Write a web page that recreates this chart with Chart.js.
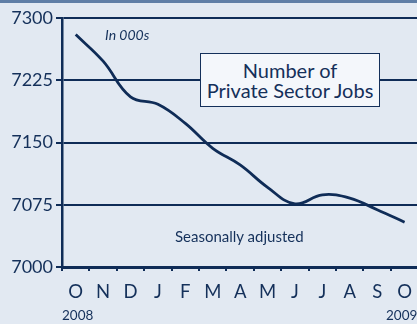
<!DOCTYPE html>
<html>
<head>
<meta charset="utf-8">
<script src="https://cdn.jsdelivr.net/npm/chart.js@4"></script>
<style>
  html, body { margin: 0; padding: 0; }
  body { width: 417px; height: 324px; overflow: hidden; background: #e2e9f2; position: relative; font-family: Lato, "Open Sans", sans-serif; color: #14305a; }
  #band { position: absolute; left: 0; top: 0; width: 417px; height: 3px; background: #5f7ea6; }
  #wrap { position: absolute; left: 0; top: 0; width: 422px; height: 324px; }
  .txt { position: absolute; white-space: nowrap; line-height: 1; }
  #unit { left: 105px; top: 28px; font-size: 14px; font-style: italic; }
  #note { left: 175px; top: 229px; font-size: 15px; }
  #title { position: absolute; left: 200px; top: 53px; width: 180px; height: 54px; box-sizing: border-box; border: 1.5px solid #14305a; background: #f4f7fb; text-align: center; font-size: 20px; line-height: 20px; padding-top: 6px; }
  #y1 { left: 62px; top: 309px; font-size: 13.5px; }
  #y2 { left: 386px; top: 309px; font-size: 13.5px; }
</style>
</head>
<body>
<div id="wrap"><canvas id="jobsChart" width="422" height="324"></canvas></div>
<div id="band"></div>
<div class="txt" id="unit">In 000s</div>
<div class="txt" id="note">Seasonally adjusted</div>
<div id="title">Number of<br>Private Sector Jobs</div>
<div class="txt" id="y1">2008</div>
<div class="txt" id="y2">2009</div>
<script>
// private sector jobs, thousands, Oct 2008 - Oct 2009 (seasonally adjusted)
const months = ["O", "N", "D", "J", "F", "M", "A", "M", "J", "J", "A", "S", "O"];
const jobs = [7280, 7248, 7205, 7196, 7173, 7143, 7123, 7096, 7076, 7087, 7083, 7069, 7054];
const yTicks = [7000, 7075, 7150, 7225, 7300];

const NAVY = "#0f2c57";
const TEXT = "#14305a";

new Chart(document.getElementById("jobsChart"), {
  type: "line",
  data: {
    labels: months,
    datasets: [{
      data: jobs,
      borderColor: NAVY,
      borderWidth: 2.8,
      backgroundColor: "transparent",
      pointRadius: 0,
      tension: 0.4,
      fill: false,
    }],
  },
  options: {
    responsive: false,
    animation: false,
    layout: { padding: { top: 18, right: 0, left: 0, bottom: 0 } },
    plugins: { legend: { display: false }, tooltip: { enabled: false } },
    scales: {
      x: {
        offset: true,
        afterFit: (s) => { s.height = 57; },
        border: { color: NAVY, width: 3 },
        grid: { offset: true, drawOnChartArea: false, drawTicks: true, tickLength: 4, color: NAVY, lineWidth: 2 },
        ticks: { color: TEXT, font: { family: "Lato", size: 18.5 }, padding: 10, maxRotation: 0, autoSkip: false },
      },
      y: {
        min: 7000,
        max: 7300,
        afterFit: (s) => { s.width = 62; },
        afterBuildTicks: (s) => { s.ticks = yTicks.map((v) => ({ value: v })); },
        border: { color: NAVY, width: 2.5 },
        grid: { color: NAVY, lineWidth: 2, tickLength: 6 },
        ticks: { color: TEXT, font: { family: "Lato", size: 18 }, padding: 3, callback: (v) => String(v) },
      },
    },
  },
});
</script>
</body>
</html>
